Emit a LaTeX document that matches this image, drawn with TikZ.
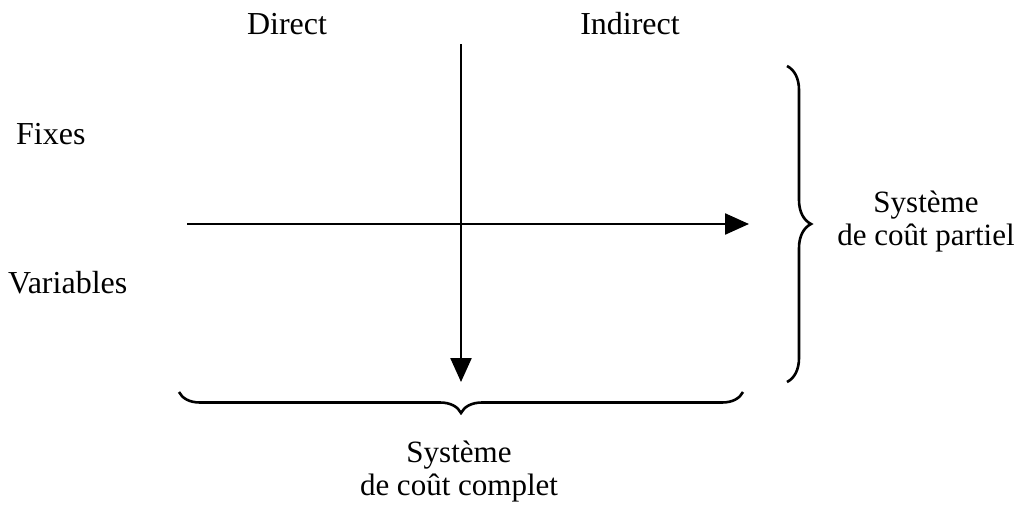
\documentclass[tikz,border=0pt]{standalone}
\usepackage{fontspec}
\setmainfont{Liberation Serif}
\usetikzlibrary{arrows.meta,decorations.pathreplacing}
\begin{document}
\begin{tikzpicture}[x=1pt,y=-1pt,
  lbl/.style={font=\fontsize{32}{33}\selectfont, inner sep=0pt, align=center},
  sys/.style={font=\fontsize{31}{33}\selectfont, inner sep=0pt, align=center},
  axis/.style={line width=2.4pt, -{Triangle[length=24pt,width=21pt]}},
  brc/.style={line width=2.6pt, decorate}]
\useasboundingbox (0,0) rectangle (1032,509);
\node[lbl] (direct) at (287,24) {Direct};
\node[lbl] (indirect) at (630,24) {Indirect};
\node[lbl, anchor=west] (fixes) at (16,134) {Fixes};
\node[lbl, anchor=west] (variables) at (8,283) {Variables};
\node[sys] (partiel) at (926,222) {Système\\de coût partiel};
\node[sys] (complet) at (459,472) {Système\\de coût complet};
\coordinate (vtop) at (461,44);
\coordinate (vbot) at (461,382);
\coordinate (hl) at (187,224);
\coordinate (hr) at (749,224);
\draw[axis] (vtop) -- (vbot);
\draw[axis] (hl) -- (hr);
\coordinate (rb1) at (787,66);
\coordinate (rb2) at (787,382);
\draw[brc, decoration={brace, amplitude=24pt}] (rb1) -- (rb2);
\coordinate (bb1) at (179,392);
\coordinate (bb2) at (743,392);
\draw[brc, decoration={brace, amplitude=21pt}] (bb2) -- (bb1);
\end{tikzpicture}
\end{document}
